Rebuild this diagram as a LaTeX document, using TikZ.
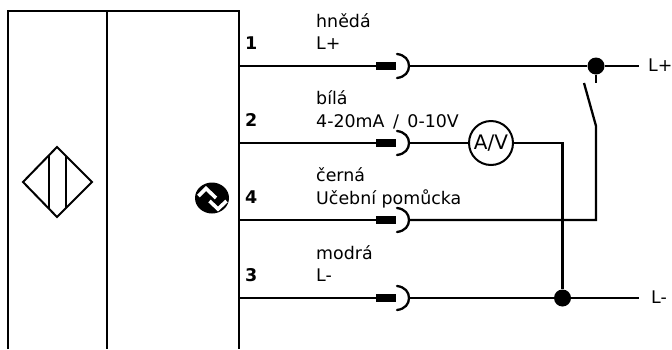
\documentclass[tikz,border=0pt]{standalone}
\usepackage{fontspec}
\setmainfont{DejaVu Sans}
\usetikzlibrary{shapes.geometric}
\tikzset{
  x=1pt,y=-1pt,
  wire/.style={line width=2.3pt,black},
  thin wire/.style={line width=2pt,black},
  lbl/.style={inner sep=0pt,anchor=base west,font=\fontsize{17.4}{20}\selectfont},
  pin/.style={inner sep=0pt,anchor=base west,font=\fontsize{17.5}{20}\selectfont\bfseries},
  plug/.style={fill=black,draw=none,minimum width=20pt,minimum height=8pt,inner sep=0pt,outer sep=0pt},
  dotnode/.style={circle,fill=black,draw=none,minimum size=17pt,inner sep=0pt},
  meter/.style={circle,draw=black,line width=2pt,fill=white,minimum size=44pt,inner sep=0pt,font=\fontsize{20}{22}\selectfont},
}
\begin{document}
\begin{tikzpicture}
\useasboundingbox (0,0) rectangle (672,349);
\fill[white] (0,0) rectangle (672,349);
% sensor housing
\draw[wire] (8,349) -- (8,11) -- (239,11) -- (239,349);
\draw[wire] (107,11) -- (107,349);
% diamond
\coordinate (dl) at (23,182);
\coordinate (dt) at (57,147);
\coordinate (dr) at (92,182);
\coordinate (db) at (57,217);
\draw[thin wire,line join=miter] (dl) -- (dt) -- (dr) -- (db) -- cycle;
\draw[thin wire] (49,156) -- (49,208);
\draw[thin wire] (66,156) -- (66,208);
% output symbol
\node[ellipse,fill=black,minimum width=34pt,minimum height=31pt,inner sep=0pt] (sym) at (212,198) {};
\draw[white,line width=3.6pt,line join=miter] (198.5,196) -- (206,188.5) -- (216,198);
\draw[white,line width=3.6pt,line join=miter] (209.5,201) -- (218,209) -- (226.5,201);
% wires
\coordinate (w1) at (239,66);
\coordinate (w2) at (239,143);
\coordinate (w4) at (239,220);
\coordinate (w3) at (239,298);
\node[plug] (p1) at (386,66) {};
\node[plug] (p2) at (386,143) {};
\node[plug] (p4) at (386,220) {};
\node[plug] (p3) at (386,298) {};
\foreach \y in {66,143,220,298}{
  \draw[wire,line cap=round] (397,\y-12) .. controls (405,\y-11) and (409,\y-6) .. (409,\y) .. controls (409,\y+6) and (405,\y+11) .. (397,\y+12);
}
\draw[wire] (w1) -- (p1.west);
\draw[wire] (w2) -- (p2.west);
\draw[wire] (w4) -- (p4.west);
\draw[wire] (w3) -- (p3.west);
\node[dotnode] (dp) at (596,66) {};
\node[dotnode] (dm) at (562.5,298) {};
\node[meter] (av) at (491,143) {A/V};
\coordinate (ep) at (639,66);
\coordinate (em) at (639,298);
\coordinate (sa) at (584,83);
\coordinate (sb) at (596,126);
\coordinate (st) at (596,83);
\coordinate (c4) at (596,220);
\coordinate (c2) at (562.5,143);
\draw[wire] (409,66) -- (dp) -- (ep);
\draw[wire] (dp) -- (st);
\draw[wire,line join=miter] (sa) -- (sb) -- (c4) -- (409,220);
\draw[wire] (409,143) -- (av);
\draw[wire,line join=miter] (av) -- (c2) -- (dm);
\draw[wire] (409,298) -- (dm) -- (em);
% texts
\node[pin] (n1) at (245,49.5) {1};
\node[pin] (n2) at (245,126.5) {2};
\node[pin] (n4) at (245,203.5) {4};
\node[pin] (n3) at (245,281) {3};
\node[lbl] (t1a) at (316,27) {hnědá};
\node[lbl] (t1b) at (316,49) {L+};
\node[lbl] (t2a) at (316,104) {bílá};
\node[lbl] (t2b) at (316,127) {4-20mA\hspace{3pt} /\hspace{3pt} 0-10V};
\node[lbl] (t4a) at (316,181) {černá};
\node[lbl] (t4b) at (316,204) {Učební pomůcka};
\node[lbl] (t3a) at (316,259) {modrá};
\node[lbl] (t3b) at (316,281) {L-};
\node[lbl] (lp) at (648,71) {L+};
\node[lbl] (lm) at (651,303) {L-};
\end{tikzpicture}
\end{document}
